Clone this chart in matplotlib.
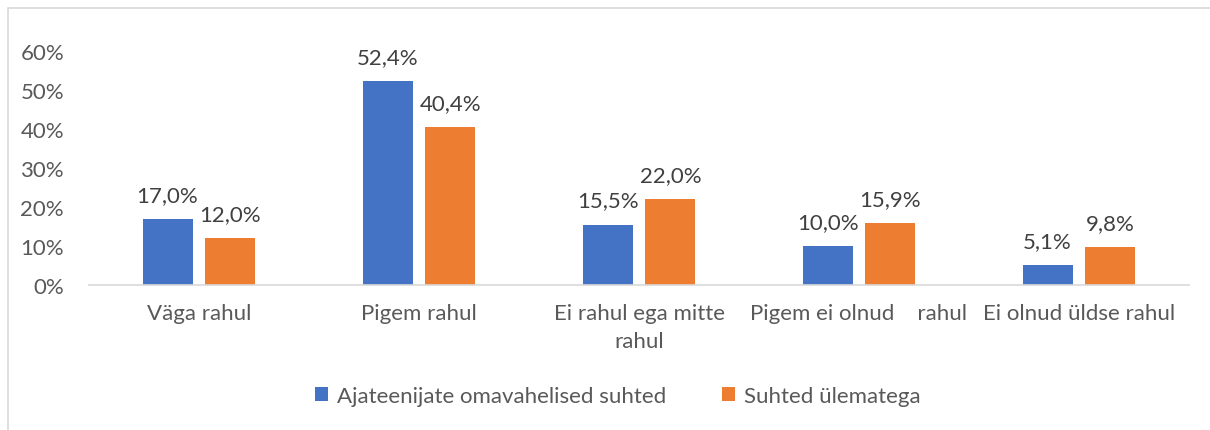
import numpy as np
import matplotlib.pyplot as plt
from matplotlib.patches import Rectangle

categories = ["Väga rahul", "Pigem rahul", "Ei rahul ega mitte\nrahul",
              "Pigem ei olnud    rahul", "Ei olnud üldse rahul"]
series_names = ["Ajateenijate omavahelised suhted", "Suhted ülematega"]
omavahel = [17.0, 52.4, 15.5, 10.0, 5.1]
ylematega = [12.0, 40.4, 22.0, 15.9, 9.8]
yticks = [0, 10, 20, 30, 40, 50, 60]

plt.rcParams['font.family'] = ['Lato', 'DejaVu Sans']
txt = '#595959'
fs = 16
colors = ['#4472C4', '#ED7D31']

fig = plt.figure(figsize=(12.1, 4.31), dpi=100)
# chart frame
fig.patches.append(Rectangle((8 / 1210, -0.1), 1.2, (431 - 9) / 431 + 0.1,
                             transform=fig.transFigure, fill=False,
                             edgecolor='#d9d9d9', linewidth=1.2))

ax = fig.add_axes([89 / 1210, 145 / 431, 1100 / 1210, 234 / 431])
x = np.arange(len(categories))
w = 0.227
off = 0.143
for vals, c, dx, name in [(omavahel, colors[0], -off, series_names[0]),
                          (ylematega, colors[1], off, series_names[1])]:
    bars = ax.bar(x + dx, vals, w, color=c, label=name)
    for b, v in zip(bars, vals):
        ax.text(b.get_x() + b.get_width() / 2, v + 3.6, f"{v:.1f}%".replace('.', ','),
                ha='center', va='bottom', fontsize=fs, color='#404040')

ax.set_xlim(-0.5, len(categories) - 0.5)
ax.set_ylim(0, 60)
ax.set_yticks(yticks)
ax.set_yticklabels([f"{t}%" for t in yticks])
ax.set_xticks(x)
ax.set_xticklabels(categories, linespacing=1.5)
ax.tick_params(axis='y', length=0, pad=18, labelsize=fs, labelcolor=txt)
ax.tick_params(axis='x', length=0, pad=13, labelsize=fs, labelcolor=txt)
for s in ['top', 'right', 'left']:
    ax.spines[s].set_visible(False)
ax.spines['bottom'].set_color('#d9d9d9')
ax.spines['bottom'].set_linewidth(1.2)

fig.legend(loc='center', bbox_to_anchor=(618 / 1210, 1 - 397 / 431), ncol=2,
           frameon=False, fontsize=fs, labelcolor=txt, handlelength=0.6,
           handleheight=0.6, handletextpad=0.4, columnspacing=2.5)

fig.savefig('out.png', dpi=100)
